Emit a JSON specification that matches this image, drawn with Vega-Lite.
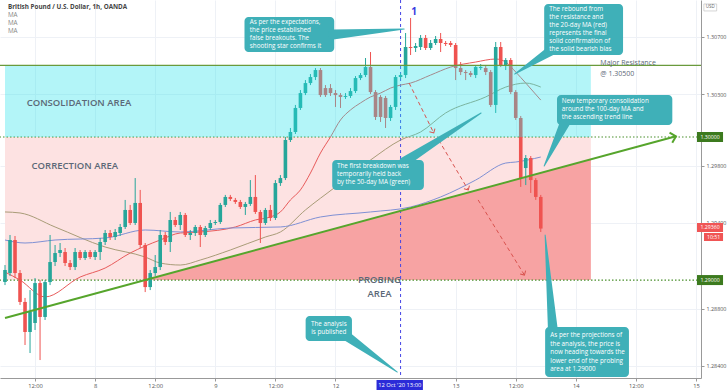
{
"$schema":"https://vega.github.io/schema/vega-lite/v6.json",
"width":701,"height":378,
"autosize":{"type":"none"},
"padding":{"left":0,"top":0,"right":27,"bottom":13},
"background":"#ffffff",
"config":{"view":{"stroke":null},"text":{"font":"Open Sans"},"axis":{"labelFont":"Open Sans"}},
"resolve":{"scale":{"color":"independent","size":"independent"}},
"datasets":{
"candles":[
{"t":6,"o":1.28986,"h":1.29105,"l":1.28965,"c":1.29070},
{"t":7,"o":1.29049,"h":1.29315,"l":1.29028,"c":1.29280},
{"t":8,"o":1.29280,"h":1.29308,"l":1.29014,"c":1.29049},
{"t":9,"o":1.29049,"h":1.29070,"l":1.28826,"c":1.28847},
{"t":10,"o":1.28847,"h":1.28875,"l":1.28546,"c":1.28637},
{"t":11,"o":1.28637,"h":1.28930,"l":1.28490,"c":1.28777},
{"t":12,"o":1.28700,"h":1.29014,"l":1.28651,"c":1.28979},
{"t":13,"o":1.28979,"h":1.29000,"l":1.28441,"c":1.28742},
{"t":14,"o":1.28742,"h":1.29000,"l":1.28721,"c":1.28986},
{"t":15,"o":1.28986,"h":1.29315,"l":1.28965,"c":1.29126},
{"t":16,"o":1.29126,"h":1.29245,"l":1.29098,"c":1.29189},
{"t":17,"o":1.29189,"h":1.29259,"l":1.29161,"c":1.29210},
{"t":18,"o":1.29196,"h":1.29224,"l":1.29098,"c":1.29119},
{"t":19,"o":1.29119,"h":1.29140,"l":1.29070,"c":1.29091},
{"t":20,"o":1.29091,"h":1.29224,"l":1.29070,"c":1.29196},
{"t":21,"o":1.29196,"h":1.29210,"l":1.29140,"c":1.29154},
{"t":22,"o":1.29154,"h":1.29210,"l":1.29140,"c":1.29196},
{"t":23,"o":1.29196,"h":1.29210,"l":1.29147,"c":1.29161},
{"t":24,"o":1.29161,"h":1.29210,"l":1.29140,"c":1.29196},
{"t":25,"o":1.29196,"h":1.29294,"l":1.29140,"c":1.29266},
{"t":26,"o":1.29266,"h":1.29350,"l":1.29245,"c":1.29329},
{"t":27,"o":1.29329,"h":1.29350,"l":1.29280,"c":1.29301},
{"t":28,"o":1.29301,"h":1.29357,"l":1.29280,"c":1.29336},
{"t":29,"o":1.29329,"h":1.29392,"l":1.29308,"c":1.29371},
{"t":30,"o":1.29371,"h":1.29560,"l":1.29357,"c":1.29490},
{"t":31,"o":1.29490,"h":1.29525,"l":1.29385,"c":1.29399},
{"t":32,"o":1.29399,"h":1.29713,"l":1.29385,"c":1.29539},
{"t":33,"o":1.29539,"h":1.29630,"l":1.29224,"c":1.29245},
{"t":34,"o":1.29245,"h":1.29259,"l":1.28916,"c":1.28951},
{"t":35,"o":1.28951,"h":1.29070,"l":1.28930,"c":1.29049},
{"t":36,"o":1.29049,"h":1.29175,"l":1.29028,"c":1.29091},
{"t":37,"o":1.29091,"h":1.29350,"l":1.29070,"c":1.29315},
{"t":38,"o":1.29315,"h":1.29336,"l":1.29245,"c":1.29266},
{"t":39,"o":1.29266,"h":1.29476,"l":1.29196,"c":1.29420},
{"t":40,"o":1.29420,"h":1.29441,"l":1.29371,"c":1.29385},
{"t":41,"o":1.29385,"h":1.29476,"l":1.29350,"c":1.29455},
{"t":42,"o":1.29455,"h":1.29469,"l":1.29301,"c":1.29315},
{"t":43,"o":1.29315,"h":1.29350,"l":1.29280,"c":1.29329},
{"t":44,"o":1.29329,"h":1.29385,"l":1.29308,"c":1.29371},
{"t":45,"o":1.29371,"h":1.29385,"l":1.29231,"c":1.29315},
{"t":46,"o":1.29315,"h":1.29378,"l":1.29301,"c":1.29364},
{"t":47,"o":1.29364,"h":1.29420,"l":1.29350,"c":1.29399},
{"t":48,"o":1.29399,"h":1.29420,"l":1.29385,"c":1.29406},
{"t":49,"o":1.29406,"h":1.29539,"l":1.29392,"c":1.29525},
{"t":50,"o":1.29525,"h":1.29595,"l":1.29511,"c":1.29581},
{"t":51,"o":1.29581,"h":1.29595,"l":1.29553,"c":1.29567},
{"t":52,"o":1.29560,"h":1.29574,"l":1.29532,"c":1.29546},
{"t":53,"o":1.29546,"h":1.29560,"l":1.29497,"c":1.29511},
{"t":54,"o":1.29511,"h":1.29546,"l":1.29455,"c":1.29532},
{"t":55,"o":1.29532,"h":1.29699,"l":1.29518,"c":1.29581},
{"t":56,"o":1.29581,"h":1.29734,"l":1.29462,"c":1.29476},
{"t":57,"o":1.29476,"h":1.29490,"l":1.29259,"c":1.29399},
{"t":58,"o":1.29399,"h":1.29504,"l":1.29385,"c":1.29490},
{"t":59,"o":1.29490,"h":1.29525,"l":1.29413,"c":1.29434},
{"t":60,"o":1.29434,"h":1.29699,"l":1.29420,"c":1.29678},
{"t":61,"o":1.29678,"h":1.29734,"l":1.29658,"c":1.29713},
{"t":62,"o":1.29713,"h":1.30000,"l":1.29699,"c":1.29979},
{"t":63,"o":1.29979,"h":1.30063,"l":1.29965,"c":1.30035},
{"t":64,"o":1.30035,"h":1.30224,"l":1.30021,"c":1.30203},
{"t":65,"o":1.30203,"h":1.30328,"l":1.30189,"c":1.30307},
{"t":66,"o":1.30307,"h":1.30398,"l":1.30293,"c":1.30377},
{"t":67,"o":1.30377,"h":1.30440,"l":1.30363,"c":1.30419},
{"t":68,"o":1.30419,"h":1.30482,"l":1.30398,"c":1.30468},
{"t":69,"o":1.30468,"h":1.30482,"l":1.30280,"c":1.30293},
{"t":70,"o":1.30342,"h":1.30363,"l":1.30280,"c":1.30293},
{"t":71,"o":1.30342,"h":1.30370,"l":1.30287,"c":1.30307},
{"t":72,"o":1.30307,"h":1.30328,"l":1.30210,"c":1.30293},
{"t":73,"o":1.30293,"h":1.30307,"l":1.30203,"c":1.30280},
{"t":74,"o":1.30280,"h":1.30307,"l":1.30266,"c":1.30287},
{"t":75,"o":1.30287,"h":1.30342,"l":1.30273,"c":1.30321},
{"t":76,"o":1.30321,"h":1.30426,"l":1.30307,"c":1.30412},
{"t":77,"o":1.30412,"h":1.30447,"l":1.30398,"c":1.30433},
{"t":78,"o":1.30433,"h":1.30552,"l":1.30419,"c":1.30489},
{"t":79,"o":1.30489,"h":1.30594,"l":1.30300,"c":1.30314},
{"t":80,"o":1.30314,"h":1.30328,"l":1.30119,"c":1.30140},
{"t":81,"o":1.30280,"h":1.30293,"l":1.30105,"c":1.30140},
{"t":82,"o":1.30273,"h":1.30287,"l":1.30063,"c":1.30133},
{"t":83,"o":1.30133,"h":1.30224,"l":1.30112,"c":1.30210},
{"t":84,"o":1.30210,"h":1.30433,"l":1.30189,"c":1.30419},
{"t":85,"o":1.30419,"h":1.30447,"l":1.30405,"c":1.30433},
{"t":86,"o":1.30433,"h":1.30727,"l":1.30412,"c":1.30629},
{"t":87,"o":1.30629,"h":1.30832,"l":1.30573,"c":1.30622},
{"t":88,"o":1.30622,"h":1.30657,"l":1.30594,"c":1.30636},
{"t":89,"o":1.30629,"h":1.30713,"l":1.30608,"c":1.30692},
{"t":90,"o":1.30692,"h":1.30713,"l":1.30608,"c":1.30622},
{"t":91,"o":1.30622,"h":1.30678,"l":1.30608,"c":1.30657},
{"t":92,"o":1.30657,"h":1.30706,"l":1.30643,"c":1.30685},
{"t":93,"o":1.30685,"h":1.30727,"l":1.30594,"c":1.30657},
{"t":94,"o":1.30657,"h":1.30671,"l":1.30636,"c":1.30650},
{"t":95,"o":1.30657,"h":1.30671,"l":1.30629,"c":1.30643},
{"t":96,"o":1.30643,"h":1.30657,"l":1.30398,"c":1.30482},
{"t":97,"o":1.30482,"h":1.30524,"l":1.30433,"c":1.30454},
{"t":98,"o":1.30454,"h":1.30468,"l":1.30398,"c":1.30447},
{"t":99,"o":1.30447,"h":1.30461,"l":1.30419,"c":1.30433},
{"t":100,"o":1.30433,"h":1.30503,"l":1.30412,"c":1.30489},
{"t":101,"o":1.30482,"h":1.30510,"l":1.30468,"c":1.30489},
{"t":102,"o":1.30482,"h":1.30496,"l":1.30433,"c":1.30454},
{"t":103,"o":1.30454,"h":1.30468,"l":1.30210,"c":1.30224},
{"t":104,"o":1.30224,"h":1.30664,"l":1.30168,"c":1.30629},
{"t":105,"o":1.30629,"h":1.30664,"l":1.30489,"c":1.30503},
{"t":106,"o":1.30503,"h":1.30552,"l":1.30468,"c":1.30538},
{"t":107,"o":1.30538,"h":1.30552,"l":1.30300,"c":1.30314},
{"t":108,"o":1.30314,"h":1.30328,"l":1.30119,"c":1.30133},
{"t":109,"o":1.30133,"h":1.30147,"l":1.29651,"c":1.29713},
{"t":110,"o":1.29783,"h":1.29874,"l":1.29664,"c":1.29853},
{"t":111,"o":1.29853,"h":1.29867,"l":1.29609,"c":1.29699},
{"t":112,"o":1.29699,"h":1.29713,"l":1.29560,"c":1.29581},
{"t":113,"o":1.29581,"h":1.29595,"l":1.29336,"c":1.29360}
],
"ma":[
{"ma":"MA20","t":6,"v":1.29056},{"ma":"MA20","t":9,"v":1.29000},{"ma":"MA20","t":14,"v":1.28882},{"ma":"MA20","t":21,"v":1.29021},{"ma":"MA20","t":26,"v":1.29084},{"ma":"MA20","t":31,"v":1.29189},{"ma":"MA20","t":34,"v":1.29238},{"ma":"MA20","t":37,"v":1.29280},{"ma":"MA20","t":41,"v":1.29329},{"ma":"MA20","t":45,"v":1.29336},{"ma":"MA20","t":52,"v":1.29371},{"ma":"MA20","t":56,"v":1.29420},{"ma":"MA20","t":59,"v":1.29441},{"ma":"MA20","t":61,"v":1.29476},{"ma":"MA20","t":63,"v":1.29560},{"ma":"MA20","t":65,"v":1.29630},{"ma":"MA20","t":67,"v":1.29748},{"ma":"MA20","t":69,"v":1.29888},{"ma":"MA20","t":71,"v":1.30000},{"ma":"MA20","t":73,"v":1.30119},{"ma":"MA20","t":75,"v":1.30189},{"ma":"MA20","t":77,"v":1.30238},{"ma":"MA20","t":79,"v":1.30280},{"ma":"MA20","t":81,"v":1.30307},{"ma":"MA20","t":83,"v":1.30342},{"ma":"MA20","t":85,"v":1.30363},{"ma":"MA20","t":87,"v":1.30377},{"ma":"MA20","t":91,"v":1.30433},{"ma":"MA20","t":95,"v":1.30489},{"ma":"MA20","t":100,"v":1.30524},{"ma":"MA20","t":104,"v":1.30545},{"ma":"MA20","t":106,"v":1.30524},{"ma":"MA20","t":108,"v":1.30454},{"ma":"MA20","t":110,"v":1.30377},{"ma":"MA20","t":113,"v":1.30258},
{"ma":"MA50","t":6,"v":1.29476},{"ma":"MA50","t":9,"v":1.29469},{"ma":"MA50","t":16,"v":1.29371},{"ma":"MA50","t":26,"v":1.29231},{"ma":"MA50","t":34,"v":1.29161},{"ma":"MA50","t":37,"v":1.29119},{"ma":"MA50","t":41,"v":1.29105},{"ma":"MA50","t":45,"v":1.29140},{"ma":"MA50","t":51,"v":1.29210},{"ma":"MA50","t":58,"v":1.29301},{"ma":"MA50","t":61,"v":1.29336},{"ma":"MA50","t":66,"v":1.29490},{"ma":"MA50","t":72,"v":1.29651},{"ma":"MA50","t":79,"v":1.29839},{"ma":"MA50","t":85,"v":1.29979},{"ma":"MA50","t":89,"v":1.30035},{"ma":"MA50","t":94,"v":1.30168},{"ma":"MA50","t":102,"v":1.30280},{"ma":"MA50","t":106,"v":1.30349},{"ma":"MA50","t":110,"v":1.30377},{"ma":"MA50","t":113,"v":1.30349},
{"ma":"MA100","t":6,"v":1.29280},{"ma":"MA100","t":10,"v":1.29259},{"ma":"MA100","t":16,"v":1.29280},{"ma":"MA100","t":26,"v":1.29294},{"ma":"MA100","t":34,"v":1.29350},{"ma":"MA100","t":41,"v":1.29336},{"ma":"MA100","t":51,"v":1.29364},{"ma":"MA100","t":61,"v":1.29371},{"ma":"MA100","t":69,"v":1.29441},{"ma":"MA100","t":79,"v":1.29476},{"ma":"MA100","t":87,"v":1.29511},{"ma":"MA100","t":93,"v":1.29581},{"ma":"MA100","t":100,"v":1.29699},{"ma":"MA100","t":106,"v":1.29818},{"ma":"MA100","t":108,"v":1.29825},{"ma":"MA100","t":113,"v":1.29860}
]
},
"layer":[
{"data":{"values":[{"zone":"Correction","t":6,"t2":123,"p":1.29,"p2":1.30}]},
 "mark":{"type":"rect"},
 "encoding":{
  "x":{"field":"t","type":"quantitative","title":null,"scale":{"domain":[6,144],"nice":false,"zero":false},
   "axis":{"orient":"bottom","values":[12,24,36,48,60,72,96,108,120,132,144],
    "labelExpr":"datum.value % 24 == 12 ? '12:00' : (datum.value == 24 ? '8' : datum.value == 48 ? '9' : datum.value == 72 ? '12' : datum.value == 96 ? '13' : datum.value == 120 ? '14' : '15')",
    "labelFontSize":5.8,"labelColor":"#555","tickSize":3,"tickColor":"#999","domainColor":"#999","labelPadding":1,"gridColor":"#eef1f6","labelFlush":false,"labelOverlap":false}},
  "x2":{"field":"t2"},
  "y":{"field":"p","type":"quantitative","title":null,"scale":{"domain":[1.283154,1.309576],"nice":false,"zero":false},
   "axis":{"orient":"right","values":[1.284,1.285,1.286,1.287,1.288,1.289,1.291,1.292,1.294,1.295,1.296,1.297,1.298,1.299,1.301,1.302,1.303,1.304,1.305,1.306,1.307,1.308],
    "format":".5f","labelFontSize":5.4,"labelColor":"#555","tickSize":3,"tickColor":"#999","domainColor":"#999","labelPadding":2,"gridColor":"#eef1f6","labelFlush":false,"labelOverlap":false}},
  "y2":{"field":"p2"},
  "color":{"field":"zone","type":"nominal","scale":{"domain":["Correction"],"range":["#fde2e2"]},"legend":null}
 }},
{"data":{"values":[{"t":34,"top":1.29,"bot":1.29},{"t":123,"top":1.29844,"bot":1.29}]},
 "mark":{"type":"area","color":"#f7a3a3"},
 "encoding":{"x":{"field":"t","type":"quantitative","title":null},"y":{"field":"top","type":"quantitative","title":null},"y2":{"field":"bot"}}},
{"data":{"values":[{"p":1.30},{"p":1.29}]},
 "mark":{"type":"rule","color":"#4a8f2c","strokeDash":[1.5,2],"strokeWidth":1.2},
 "encoding":{"y":{"field":"p","type":"quantitative","title":null}}},
{"data":{"values":[{"t":85}]},
 "mark":{"type":"rule","color":"#4646e6","strokeDash":[3,3],"strokeWidth":1},
 "encoding":{"x":{"field":"t","type":"quantitative","title":null}}},
{"data":{"name":"ma"},
 "mark":{"type":"line","strokeWidth":1,"interpolate":"monotone"},
 "encoding":{"x":{"field":"t","type":"quantitative","title":null},"y":{"field":"v","type":"quantitative","title":null},
  "color":{"field":"ma","type":"nominal","scale":{"domain":["MA20","MA50","MA100"],"range":["#e85b5b","#a99c78","#7f90d4"]},"legend":null}}},
{"data":{"name":"candles"},
 "mark":{"type":"rule","strokeWidth":1},
 "encoding":{"x":{"field":"t","type":"quantitative","title":null},"y":{"field":"l","type":"quantitative","title":null},"y2":{"field":"h"},
  "color":{"condition":{"test":"datum.c >= datum.o","value":"#26a69a"},"value":"#ef5350"}}},
{"data":{"name":"candles"},
 "mark":{"type":"bar","width":3.6},
 "encoding":{"x":{"field":"t","type":"quantitative","title":null},"y":{"field":"o","type":"quantitative","title":null},"y2":{"field":"c"},
  "color":{"condition":{"test":"datum.c >= datum.o","value":"#26a69a"},"value":"#ef5350"}}},
{"data":{"values":[{"zone":"Consolidation","t":6,"t2":123,"p":1.300,"p2":1.305}]},
 "mark":{"type":"rect","color":"#26e2eb","opacity":0.35},
 "encoding":{"x":{"field":"t","type":"quantitative","title":null},"x2":{"field":"t2"},"y":{"field":"p","type":"quantitative","title":null},"y2":{"field":"p2"}}},
{"data":{"values":[{"p":1.305}]},
 "mark":{"type":"rule","color":"#6a9a3c","strokeWidth":1.3},
 "encoding":{"y":{"field":"p","type":"quantitative","title":null}}},
{"data":{"values":[{"t":6,"p":1.28735},{"t":140,"p":1.30005}]},
 "mark":{"type":"line","color":"#56a52c","strokeWidth":2},
 "encoding":{"x":{"field":"t","type":"quantitative","title":null},"y":{"field":"p","type":"quantitative","title":null}}},
{"data":{"values":[{"t":140,"p":1.30005}]},
 "mark":{"type":"point","shape":"M-1,-1L0,0L-1,1","filled":false,"stroke":"#56a52c","strokeWidth":2,"size":110,"angle":-15,"opacity":1},
 "encoding":{"x":{"field":"t","type":"quantitative","title":null},"y":{"field":"p","type":"quantitative","title":null}}},
{"data":{"values":[{"t":86.71,"p":1.30377,"t2":91.63,"p2":1.30028},{"t":92.61,"p":1.29979,"t2":98.52,"p2":1.29630},{"t":100.49,"p":1.29560,"t2":109.74,"p2":1.29035}]},
 "mark":{"type":"rule","color":"#d9534f","strokeDash":[4,3],"strokeWidth":1},
 "encoding":{"x":{"field":"t","type":"quantitative","title":null},"y":{"field":"p","type":"quantitative","title":null},"x2":{"field":"t2"},"y2":{"field":"p2"}}},
{"data":{"values":[{"t":91.63,"p":1.30028},{"t":98.52,"p":1.29630},{"t":109.74,"p":1.29035}]},
 "mark":{"type":"point","shape":"M-1,-1L0,0L-1,1","filled":false,"stroke":"#d9534f","strokeWidth":1,"size":40,"angle":60,"opacity":1},
 "encoding":{"x":{"field":"t","type":"quantitative","title":null},"y":{"field":"p","type":"quantitative","title":null}}},
{"data":{"values":[
  {"id":"a","t":53.83,"t2":71.75,"p":1.30594,"p2":1.30839},
  {"id":"b","t":113.68,"t2":129.43,"p":1.30573,"p2":1.30930},
  {"id":"c","t":116.24,"t2":139.27,"p":1.30084,"p2":1.30294},
  {"id":"d","t":71.35,"t2":89.66,"p":1.29630,"p2":1.29839},
  {"id":"e","t":66.04,"t2":75.29,"p":1.28574,"p2":1.28749},
  {"id":"f","t":113.87,"t2":130.61,"p":1.28322,"p2":1.28672}]},
 "mark":{"type":"rect","color":"#3fb0b8","cornerRadius":4},
 "encoding":{"x":{"field":"t","type":"quantitative","title":null},"x2":{"field":"t2"},"y":{"field":"p","type":"quantitative","title":null},"y2":{"field":"p2"}}},
{"data":{"values":[
  {"id":"a","end":"base","t":71.5,"p":1.30716},{"id":"a","end":"tip","t":85.72,"p":1.30755},
  {"id":"b","end":"base","t":115.25,"p":1.30608},{"id":"b","end":"tip","t":107.77,"p":1.30440},
  {"id":"c","end":"base","t":117.81,"p":1.30098},{"id":"c","end":"tip","t":113.68,"p":1.29797},
  {"id":"d","end":"base","t":85.72,"p":1.29825},{"id":"d","end":"tip","t":101.08,"p":1.30168},
  {"id":"e","end":"base","t":73.91,"p":1.28616},{"id":"e","end":"tip","t":84.35,"p":1.28357},
  {"id":"f","end":"base","t":115.45,"p":1.28637},{"id":"f","end":"tip","t":113.87,"p":1.29315}]},
 "mark":{"type":"trail","color":"#3fb0b8"},
 "encoding":{"x":{"field":"t","type":"quantitative","title":null},"y":{"field":"p","type":"quantitative","title":null},"detail":{"field":"id","type":"nominal"},
  "size":{"field":"end","type":"ordinal","scale":{"domain":["base","tip"],"range":[10,1]},"legend":null}}},
{"data":{"values":[
  {"t":54.9,"p":1.30825,"txt":["As per the expectations,","the price established","false breakouts. The","shooting star confirms it"]},
  {"t":114.7,"p":1.30919,"txt":["The rebound from","the resistance and","the 20-day MA (red)","represents the final","solid confirmation of","the solid bearish bias"]},
  {"t":117.2,"p":1.30273,"txt":["New temporary consolidation","around the 100-day MA and","the ascending trend line"]},
  {"t":72.3,"p":1.29818,"txt":["The first breakdown was","temporarily held back","by the 50-day MA (green)"]}]},
 "mark":{"type":"text","align":"left","baseline":"top","color":"#ffffff","fontSize":6.3,"lineHeight":8},
 "encoding":{"x":{"field":"t","type":"quantitative","title":null},"y":{"field":"p","type":"quantitative","title":null},"text":{"field":"txt"}}},
{"data":{"values":[
  {"t":114.9,"p":1.28637,"txt":["As per the projections of","the analysis, the price is","now heading towards the","lower end of the probing","area at 1.29000"]}]},
 "mark":{"type":"text","align":"left","baseline":"top","color":"#ffffff","fontSize":6.3,"lineHeight":8.6},
 "encoding":{"x":{"field":"t","type":"quantitative","title":null},"y":{"field":"p","type":"quantitative","title":null},"text":{"field":"txt"}}},
{"data":{"values":[{"t":70.67,"p":1.28717,"txt":["The analysis","is published"]}]},
 "mark":{"type":"text","align":"center","baseline":"top","color":"#ffffff","fontSize":6.3,"lineHeight":8},
 "encoding":{"x":{"field":"t","type":"quantitative","title":null},"y":{"field":"p","type":"quantitative","title":null},"text":{"field":"txt"}}},
{"data":{"values":[{"t":10.33,"p":1.30238,"txt":"CONSOLIDATION AREA"},{"t":11.31,"p":1.29797,"txt":"CORRECTION AREA"}]},
 "mark":{"type":"text","align":"left","baseline":"middle","color":"#5b6877","fontSize":9.5,"fontWeight":600},
 "encoding":{"x":{"field":"t","type":"quantitative","title":null},"y":{"field":"p","type":"quantitative","title":null},"text":{"field":"txt"}}},
{"data":{"values":[{"t":80.8,"p":1.29035,"txt":["PROBING","AREA"]}]},
 "mark":{"type":"text","align":"center","baseline":"top","color":"#5b6877","fontSize":9.5,"fontWeight":600,"lineHeight":14},
 "encoding":{"x":{"field":"t","type":"quantitative","title":null},"y":{"field":"p","type":"quantitative","title":null},"text":{"field":"txt"}}},
{"data":{"values":[{"t":124.9,"p":1.30545,"txt":["Major Resistance","  @ 1.30500"]}]},
 "mark":{"type":"text","align":"left","baseline":"top","color":"#5b6877","fontSize":7,"lineHeight":10.5},
 "encoding":{"x":{"field":"t","type":"quantitative","title":null},"y":{"field":"p","type":"quantitative","title":null},"text":{"field":"txt"}}},
{"data":{"values":[{"t":6.59,"p":1.30909,"txt":"British Pound / U.S. Dollar, 1h, OANDA"}]},
 "mark":{"type":"text","align":"left","baseline":"middle","color":"#444444","fontSize":6.3,"fontWeight":"bold"},
 "encoding":{"x":{"field":"t","type":"quantitative","title":null},"y":{"field":"p","type":"quantitative","title":null},"text":{"field":"txt"}}},
{"data":{"values":[{"t":6.59,"p":1.30853,"txt":"MA"},{"t":6.59,"p":1.30797,"txt":"MA"},{"t":6.59,"p":1.30741,"txt":"MA"}]},
 "mark":{"type":"text","align":"left","baseline":"middle","color":"#888888","fontSize":6.3},
 "encoding":{"x":{"field":"t","type":"quantitative","title":null},"y":{"field":"p","type":"quantitative","title":null},"text":{"field":"txt"}}},
{"data":{"values":[{"t":87.69,"p":1.30874,"txt":"1"}]},
 "mark":{"type":"text","align":"center","baseline":"middle","color":"#3a3ae0","fontSize":10,"fontWeight":"bold"},
 "encoding":{"x":{"field":"t","type":"quantitative","title":null},"y":{"field":"p","type":"quantitative","title":null},"text":{"field":"txt"}}},
{"data":{"values":[{"t":80.2,"t2":89.46,"p":1.28231,"p2":1.28301}]},
 "mark":{"type":"rect","color":"#2b2bd8"},
 "encoding":{"x":{"field":"t","type":"quantitative","title":null},"x2":{"field":"t2"},"y":{"field":"p","type":"quantitative","title":null},"y2":{"field":"p2"}}},
{"data":{"values":[{"t":84.83,"p":1.28266,"txt":"12 Oct '20   13:00"}]},
 "mark":{"type":"text","align":"center","baseline":"middle","color":"#ffffff","fontSize":5.8},
 "encoding":{"x":{"field":"t","type":"quantitative","title":null},"y":{"field":"p","type":"quantitative","title":null},"text":{"field":"txt"}}},
{"data":{"values":[{"t":144.2,"t2":149.4,"p":1.29965,"p2":1.30035},{"t":144.2,"t2":149.4,"p":1.28965,"p2":1.29035}]},
 "mark":{"type":"rect","color":"#3c7a1e"},
 "encoding":{"x":{"field":"t","type":"quantitative","title":null},"x2":{"field":"t2"},"y":{"field":"p","type":"quantitative","title":null},"y2":{"field":"p2"}}},
{"data":{"values":[{"t":144.2,"t2":149.4,"p":1.29336,"p2":1.29399},{"t":145.6,"t2":149.4,"p":1.29273,"p2":1.29329}]},
 "mark":{"type":"rect","color":"#f05555"},
 "encoding":{"x":{"field":"t","type":"quantitative","title":null},"x2":{"field":"t2"},"y":{"field":"p","type":"quantitative","title":null},"y2":{"field":"p2"}}},
{"data":{"values":[{"t":146.8,"p":1.30000,"txt":"1.30000"},{"t":146.8,"p":1.29000,"txt":"1.29000"},{"t":146.8,"p":1.29368,"txt":"1.29360"},{"t":147.5,"p":1.29301,"txt":"10:51"}]},
 "mark":{"type":"text","align":"center","baseline":"middle","color":"#ffffff","fontSize":5.2},
 "encoding":{"x":{"field":"t","type":"quantitative","title":null},"y":{"field":"p","type":"quantitative","title":null},"text":{"field":"txt"}}},
{"data":{"values":[{"t":145.57,"t2":148.13,"p":1.30881,"p2":1.3093}]},
 "mark":{"type":"rect","fill":"#ffffff","stroke":"#bbbbbb","strokeWidth":0.6},
 "encoding":{"x":{"field":"t","type":"quantitative","title":null},"x2":{"field":"t2"},"y":{"field":"p","type":"quantitative","title":null},"y2":{"field":"p2"}}},
{"data":{"values":[{"t":146.85,"p":1.30906,"txt":"USD"}]},
 "mark":{"type":"text","align":"center","baseline":"middle","color":"#666666","fontSize":4.5},
 "encoding":{"x":{"field":"t","type":"quantitative","title":null},"y":{"field":"p","type":"quantitative","title":null},"text":{"field":"txt"}}}
]
}
